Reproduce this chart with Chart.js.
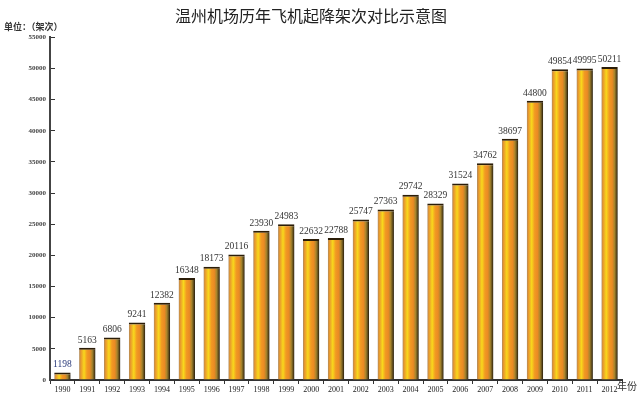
<!DOCTYPE html>
<html>
<head>
<meta charset="utf-8">
<script src="https://cdn.jsdelivr.net/npm/chart.js@4/dist/chart.umd.min.js"></script>
<style>
  html, body { margin: 0; padding: 0; background: #fff; }
  #wrap { width: 642px; height: 399px; }
</style>
</head>
<body>
<div id="wrap"><canvas id="movements"></canvas></div>
<script>
const years = ['1990', '1991', '1992', '1993', '1994', '1995', '1996', '1997', '1998', '1999', '2000', '2001',
    '2002', '2003', '2004', '2005', '2006', '2007', '2008', '2009', '2010', '2011', '2012'];
const movements = [1198, 5163, 6806, 9241, 12382, 16348, 18173, 20116, 23930, 24983, 22632, 22788,
    25747, 27363, 29742, 28329, 31524, 34762, 38697, 44800, 49854, 49995, 50211];
const yMax = 55000;
const yStep = 5000;
const barShare = 0.66;

// cylinder-like fill across each bar, placed from the x scale
function barFill(ctx) {
    const chart = ctx.chart;
    const xs = chart.scales.x;
    if (!xs || !chart.chartArea || ctx.dataIndex === undefined) return '#f2a324';
    const cx = xs.getPixelForValue(ctx.dataIndex);
    const half = (chart.chartArea.width / years.length) * barShare / 2;
    if (!Number.isFinite(cx) || !Number.isFinite(half) || half <= 0) return '#f2a324';
    const g = chart.ctx.createLinearGradient(cx - half, 0, cx + half, 0);
    g.addColorStop(0, '#a88a62');
    g.addColorStop(0.1, '#e8962e');
    g.addColorStop(0.3, '#f8d81c');
    g.addColorStop(0.48, '#f29a22');
    g.addColorStop(0.66, '#ea8a24');
    g.addColorStop(0.8, '#a8862c');
    g.addColorStop(0.92, '#5e4a1c');
    g.addColorStop(1, '#1e1608');
    return g;
}

const extraText = {
    id: 'extraText',
    afterDatasetsDraw(chart) {
        const c = chart.ctx;
        const meta = chart.getDatasetMeta(0);
        c.save();
        c.font = '9.5px "Liberation Serif"';
        c.textAlign = 'center';
        c.textBaseline = 'bottom';
        meta.data.forEach((bar, i) => {
            c.fillStyle = i === 0 ? '#2a3a7a' : '#333';
            c.fillText(movements[i], bar.x, bar.y - 3);
        });
        const area = chart.chartArea;
        c.fillStyle = '#333';
        c.textAlign = 'left';
        c.textBaseline = 'middle';
        c.font = 'bold 9px "Noto Sans CJK SC"';
        c.fillText('单位：（架次）', 4, 27);
        c.font = '10px "Noto Sans CJK SC"';
        c.fillText('年份', area.right - 5, area.bottom + 6);
        c.restore();
    }
};

new Chart(document.getElementById('movements'), {
    type: 'bar',
    data: {
        labels: years,
        datasets: [{
            data: movements,
            backgroundColor: barFill,
            borderColor: '#2b1d08',
            borderWidth: {top: 2, left: 0, right: 0, bottom: 0},
            categoryPercentage: 0.8,
            barPercentage: barShare / 0.8,
        }]
    },
    options: {
        responsive: true,
        maintainAspectRatio: false,
        animation: false,
        layout: {
            padding: {left: 0, right: 20, top: 0, bottom: 0}
        },
        plugins: {
            legend: {display: false},
            tooltip: {enabled: false},
            title: {
                display: true,
                text: '温州机场历年飞机起降架次对比示意图',
                color: '#222',
                font: {family: 'Noto Sans CJK SC', size: 16, weight: 'normal'},
                padding: {top: 6, bottom: 12},
            },
        },
        scales: {
            x: {
                grid: {
                    display: true,
                    drawOnChartArea: false,
                    color: '#333',
                    tickLength: 4,
                },
                border: {color: '#333', width: 2},
                ticks: {
                    color: '#222',
                    font: {family: 'Liberation Serif', size: 8},
                    padding: 1,
                    maxRotation: 0,
                    autoSkip: false,
                },
                afterFit(scale) { scale.height = 19; },
            },
            y: {
                min: 0,
                max: yMax,
                grid: {
                    display: true,
                    drawOnChartArea: false,
                    color: '#333',
                    tickLength: -5,
                },
                border: {color: '#444', width: 2},
                ticks: {
                    stepSize: yStep,
                    color: '#444',
                    font: {family: 'Liberation Serif', size: 7, weight: 'bold'},
                    padding: 9,
                    callback: (v) => String(v),
                },
                afterFit(scale) { scale.width = 50; },
            }
        }
    },
    plugins: [extraText]
});
</script>
</body>
</html>
